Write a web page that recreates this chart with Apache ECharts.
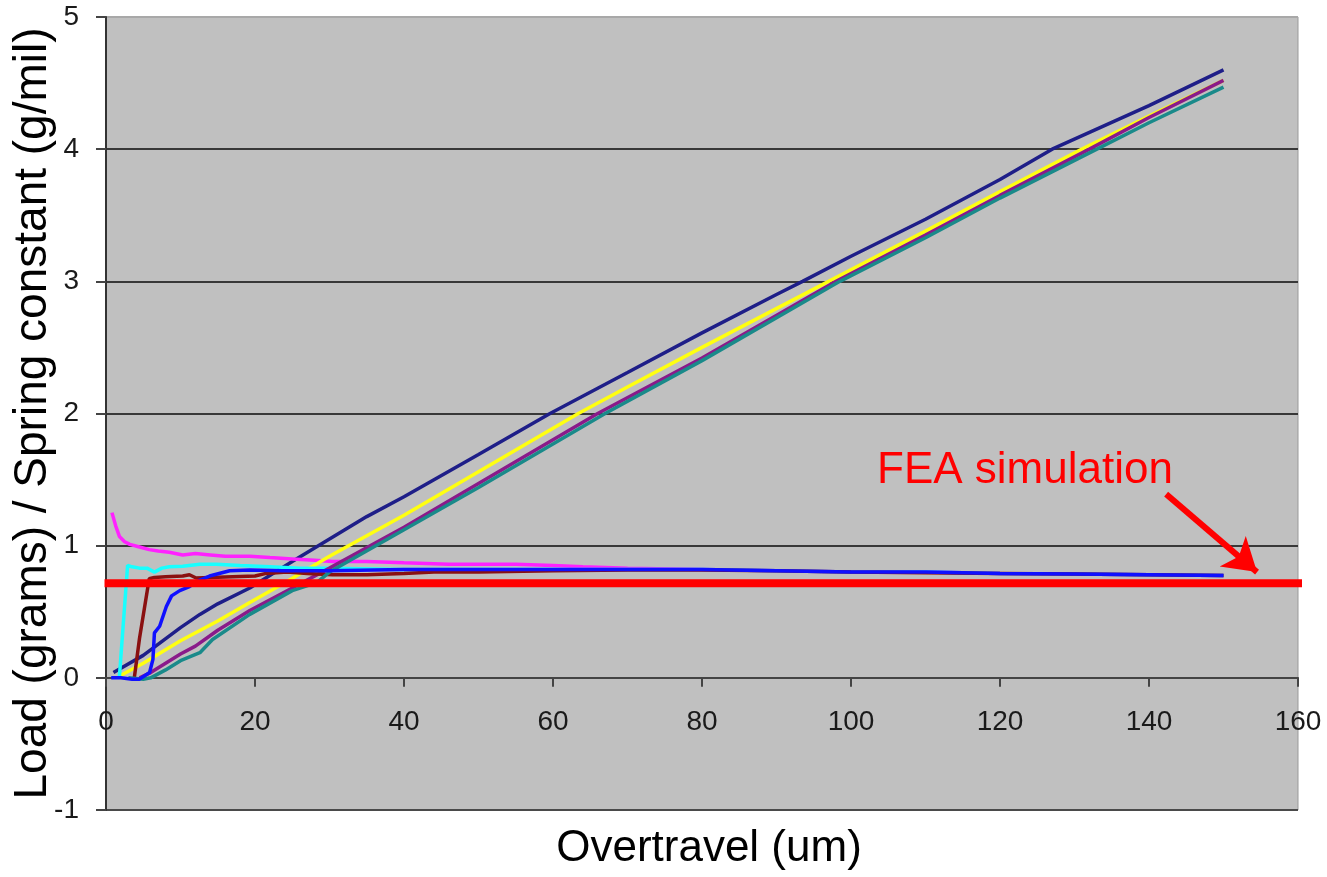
<!DOCTYPE html>
<html>
<head>
<meta charset="utf-8">
<title>Overtravel</title>
<script src="https://cdn.jsdelivr.net/npm/echarts@6/dist/echarts.min.js"></script>
<style>
	html, body { margin: 0; padding: 0; background: #fff; }
	#myChart { width: 1327px; height: 877px; }
</style>
</head>
<body>
<div id="myChart"></div>
<script type="text/javascript">
	// load curves [overtravel um, grams]
	var navyLoad = [[1,0.04],[5,0.17],[10,0.38],[12.6,0.48],[15,0.56],[19.3,0.68],[25,0.88],[30,1.05],[35,1.22],[40,1.37],[50,1.69],[59.6,2.0],[70,2.31],[80,2.61],[90,2.9],[93.5,3.0],[100,3.19],[110,3.47],[120,3.77],[127,4.0],[140,4.33],[150,4.6]];
	var yellowLoad = [[2,0.02],[5,0.11],[10,0.28],[15,0.43],[19.3,0.57],[24,0.72],[30,0.92],[40,1.23],[50,1.56],[63.4,2.0],[70,2.2],[80,2.5],[97,3.0],[110,3.38],[120,3.68],[131,4.0],[140,4.25],[150,4.52]];
	var purpleLoad = [[4.5,0],[6,0.04],[8,0.11],[10,0.18],[12,0.24],[15,0.36],[19.3,0.51],[25,0.68],[30,0.83],[40,1.14],[50,1.47],[66,2.0],[80,2.42],[98,3.0],[110,3.35],[120,3.65],[132,4.0],[140,4.24],[150,4.52]];
	var tealLoad = [[3,0],[5,-0.01],[6,0],[8,0.06],[10,0.13],[12.6,0.19],[14.3,0.29],[19.3,0.48],[25,0.66],[28.3,0.72],[30,0.8],[40,1.12],[50,1.44],[67,2.0],[80,2.4],[98.5,3.0],[110,3.33],[120,3.63],[133,4.0],[140,4.2],[150,4.47]];
	// spring constant curves [overtravel um, g/mil]
	var magentaK = [[0.8,1.25],[1.3,1.15],[1.8,1.07],[2.5,1.03],[3.2,1.01],[4.5,0.99],[5.8,0.97],[7,0.96],[8.5,0.95],[10.3,0.93],[12,0.94],[14,0.93],[16,0.92],[19.3,0.92],[22,0.91],[25,0.9],[28,0.89],[30.4,0.88],[35,0.88],[40,0.87],[46,0.86],[50,0.86],[55,0.86],[60,0.85],[64,0.84],[70,0.83],[80,0.82],[90,0.81],[100,0.8],[110,0.8],[120,0.79],[130,0.785],[140,0.78],[150,0.775]];
	var cyanK = [[1.8,0.01],[2.9,0.85],[3.5,0.84],[4.5,0.83],[5.5,0.83],[6.5,0.8],[7.5,0.83],[8.5,0.84],[10.3,0.845],[12.6,0.86],[14.8,0.86],[18,0.85],[22,0.84],[26,0.83],[30,0.83],[40,0.82],[50,0.82],[60,0.82],[70,0.82],[80,0.82],[90,0.81],[100,0.8],[110,0.8],[120,0.79],[130,0.785],[140,0.78],[150,0.775]];
	var brownK = [[3.8,0],[4.5,0.3],[5.8,0.75],[6.5,0.76],[8,0.765],[10.3,0.77],[11.2,0.78],[12.1,0.755],[14,0.76],[17,0.765],[20,0.77],[21.5,0.79],[24.3,0.8],[27,0.79],[30.4,0.78],[35,0.78],[40,0.79],[44,0.8],[50,0.8],[60,0.81],[70,0.815],[80,0.815],[90,0.81],[100,0.8],[110,0.795],[120,0.79],[130,0.785],[140,0.78],[150,0.775]];
	var blueK = [[0.7,0],[2,0],[3.5,-0.01],[4.5,-0.01],[5.85,0.04],[6.3,0.14],[6.5,0.34],[7.2,0.39],[8.1,0.54],[8.8,0.62],[9.9,0.66],[11.2,0.69],[12.6,0.74],[13.9,0.77],[16.6,0.81],[19.3,0.815],[23.7,0.81],[30,0.81],[40,0.82],[50,0.82],[60,0.82],[70,0.82],[80,0.82],[90,0.81],[100,0.8],[110,0.8],[120,0.79],[130,0.785],[140,0.78],[150,0.775]];
	// FEA result and the arrow pointing at it
	var feaLine = [[-0.2,0.715],[160.6,0.715]];
	var arrowFrom = [142.3, 1.39];
	var arrowTo = [154.5, 0.80];
	var xTicks = [0, 160, 20];
	var yTicks = [-1, 5, 1];

	var font = "'Liberation Sans', Arial, sans-serif";

	function curve(name, color, data) {
		return {
			name: name,
			type: 'line',
			data: data,
			showSymbol: false,
			smooth: false,
			animation: false,
			lineStyle: { color: color, width: 3.5 }
		};
	}

	var myChart = echarts.init(document.getElementById('myChart'));
	var option = {
		backgroundColor: '#ffffff',
		grid: {
			left: 106,
			top: 17,
			width: 1192,
			height: 793,
			containLabel: false,
			outerBoundsMode: 'none',
			show: true,
			backgroundColor: '#c0c0c0',
			borderColor: '#9a9a9a',
			borderWidth: 1
		},
		xAxis: {
			type: 'value',
			min: xTicks[0],
			max: xTicks[1],
			interval: xTicks[2],
			name: 'Overtravel (um)',
			nameLocation: 'middle',
			nameGap: 17,
			nameTextStyle: { fontFamily: font, fontSize: 44, color: '#000', padding: [0, 0, 0, 14] },
			axisLine: { onZero: true, lineStyle: { color: '#444', width: 2 } },
			axisTick: { show: true, length: 9, lineStyle: { color: '#444', width: 2 } },
			// labels sit just under the zero line, inside the plot
			axisLabel: { margin: -102, fontFamily: font, fontSize: 28, color: '#1a1a1a' },
			splitLine: { show: false }
		},
		yAxis: {
			type: 'value',
			min: yTicks[0],
			max: yTicks[1],
			interval: yTicks[2],
			name: 'Load (grams) / Spring constant (g/mil)',
			nameLocation: 'middle',
			nameRotate: 90,
			nameGap: 50,
			nameMoveOverlap: false,
			nameTextStyle: { fontFamily: font, fontSize: 46, color: '#000' },
			axisLine: { show: true, lineStyle: { color: '#333', width: 2 } },
			axisTick: { show: true, length: 10, lineStyle: { color: '#444', width: 2 } },
			axisLabel: { margin: 27, fontFamily: font, fontSize: 28, color: '#1a1a1a' },
			splitLine: {
				show: true,
				lineStyle: { color: ['#4a4a4a', '#4a4a4a', '#383838', '#383838', '#383838', '#383838', '#a8a8a8'], width: 2 }
			}
		},
		graphic: [{
			type: 'text',
			left: 877,
			top: 449,
			silent: true,
			style: { text: 'FEA simulation', fill: '#ff0000', font: '44px ' + font }
		}],
		series: [
			curve('navy', '#1e1e88', navyLoad),
			curve('magenta', '#ff22ff', magentaK),
			curve('yellow', '#ffff10', yellowLoad),
			curve('cyan', '#18ffff', cyanK),
			curve('purple', '#8a1a8a', purpleLoad),
			curve('brown', '#8a1010', brownK),
			curve('teal', '#1a8a8a', tealLoad),
			curve('blue', '#1010ff', blueK),
			{
				name: 'FEA simulation',
				type: 'line',
				data: feaLine,
				showSymbol: false,
				clip: false,
				animation: false,
				lineStyle: { color: '#ff0000', width: 8 },
				markLine: {
					silent: true,
					animation: false,
					symbol: ['none', 'arrow'],
					symbolSize: [30, 32],
					label: { show: false },
					lineStyle: { color: '#ff0000', width: 6, type: 'solid' },
					data: [[{ coord: arrowFrom }, { coord: arrowTo }]]
				}
			}
		]
	};
	myChart.setOption(option);
</script>
</body>
</html>
